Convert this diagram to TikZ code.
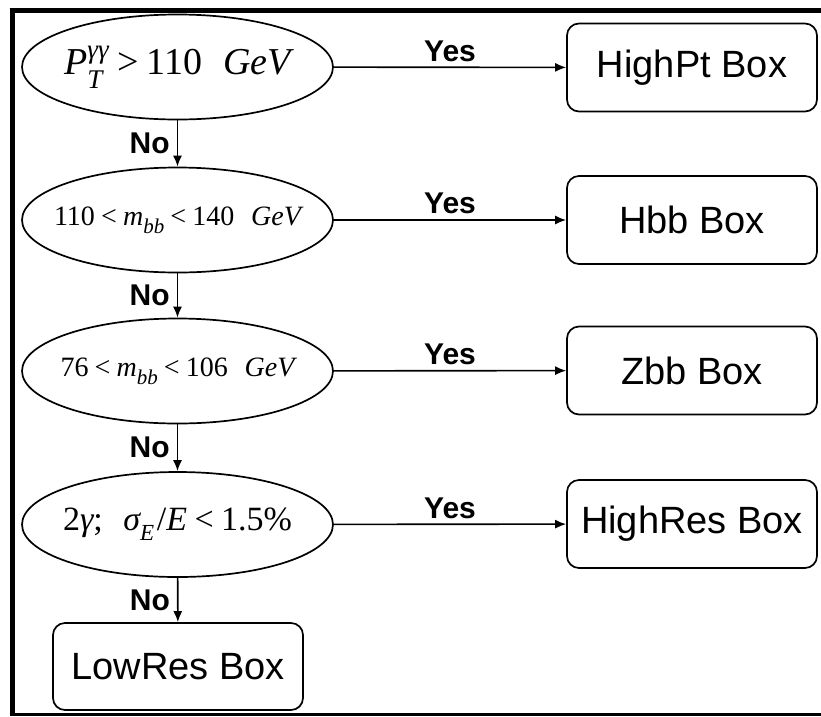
\documentclass[tikz,border=0pt]{standalone}
\usepackage{fontspec}
\setsansfont{Liberation Sans}
\newfontfamily\mf{Liberation Serif}
\newcommand\mi[1]{{\mf\itshape #1}}
\newcommand\rel[1]{\hspace{.22em}#1\hspace{.22em}}
\newcommand\zw[1]{\makebox[0pt]{#1}}
\usetikzlibrary{shapes.geometric,arrows.meta}
\begin{document}
\begin{tikzpicture}[x=1pt,y=-1pt,
  cond/.style={ellipse,draw,line width=1.7pt,minimum width=311pt,minimum height=105pt,inner sep=0pt},
  outbox/.style={draw,rounded corners=12pt,line width=1.7pt,minimum width=250pt,minimum height=88pt,inner sep=0pt,font=\sffamily\fontsize{38}{40}\selectfont},
  lab/.style={font=\sffamily\bfseries\fontsize{30}{32}\selectfont,inner sep=0pt},
  arr/.style={-{Latex[length=11pt,width=9pt]},line width=1.6pt}]
\useasboundingbox (0,0) rectangle (821,716);
% frame
\draw[line width=5pt] (9.5,10.5) -- (821,10.5);
\draw[line width=5pt] (12.3,8) -- (12.3,716);
\draw[line width=2.5pt] (9.5,714.5) -- (821,714.5);
% conditions
\node[cond,font=\fontsize{38}{42}\selectfont\mf] (e1) at (177.5,67)
  {\zw{\mi{P}\rlap{\raisebox{-.36em}{\fontsize{27}{30}\selectfont\mf\itshape T}}\raisebox{.42em}{\fontsize{27}{30}\selectfont\mf\itshape γγ}\rel{>}110\hspace{.55em}\mi{GeV}}};
\node[cond,font=\fontsize{28}{32}\selectfont\mf] (e2) at (177.5,220)
  {\zw{110\rel{<}\mi{m}\raisebox{-.3em}{\fontsize{21}{24}\selectfont\mf\itshape bb}\rel{<}140\hspace{.6em}\mi{GeV}}};
\node[cond,font=\fontsize{28}{32}\selectfont\mf] (e3) at (177.5,371)
  {\zw{76\rel{<}\mi{m}\raisebox{-.3em}{\fontsize{21}{24}\selectfont\mf\itshape bb}\rel{<}106\hspace{.6em}\mi{GeV}}};
\node[cond,font=\fontsize{34}{38}\selectfont\mf] (e4) at (177.5,524.5)
  {\zw{2\mi{γ};\hspace{.6em}\mi{σ}\raisebox{-.3em}{\fontsize{23}{26}\selectfont\mf\itshape E}\hspace{.08em}/\mi{E}\rel{<}1.5\%}};
% boxes
\node[outbox] (b1) at (692,67.5) {HighPt Box};
\node[outbox] (b2) at (692,220)  {Hbb Box};
\node[outbox] (b3) at (692,370.5) {Zbb Box};
\node[outbox] (b4) at (692,524)  {HighRes Box};
\node[outbox,minimum height=87pt] (b5) at (178,666.5) {LowRes Box};
% yes arrows
\draw[arr] (e1) -- node[lab,above=5pt]{Yes} (b1);
\draw[arr] (e2) -- node[lab,above=5pt]{Yes} (b2);
\draw[arr] (e3) -- node[lab,above=5pt]{Yes} (b3);
\draw[arr] (e4) -- node[lab,above=5pt]{Yes} (b4);
% no arrows
\draw[arr] (e1) -- node[lab,left=7pt]{No} (e2);
\draw[arr] (e2) -- node[lab,left=7pt]{No} (e3);
\draw[arr] (e3) -- node[lab,left=7pt]{No} (e4);
\draw[arr] (e4) -- node[lab,left=7pt]{No} (b5);
\end{tikzpicture}
\end{document}
